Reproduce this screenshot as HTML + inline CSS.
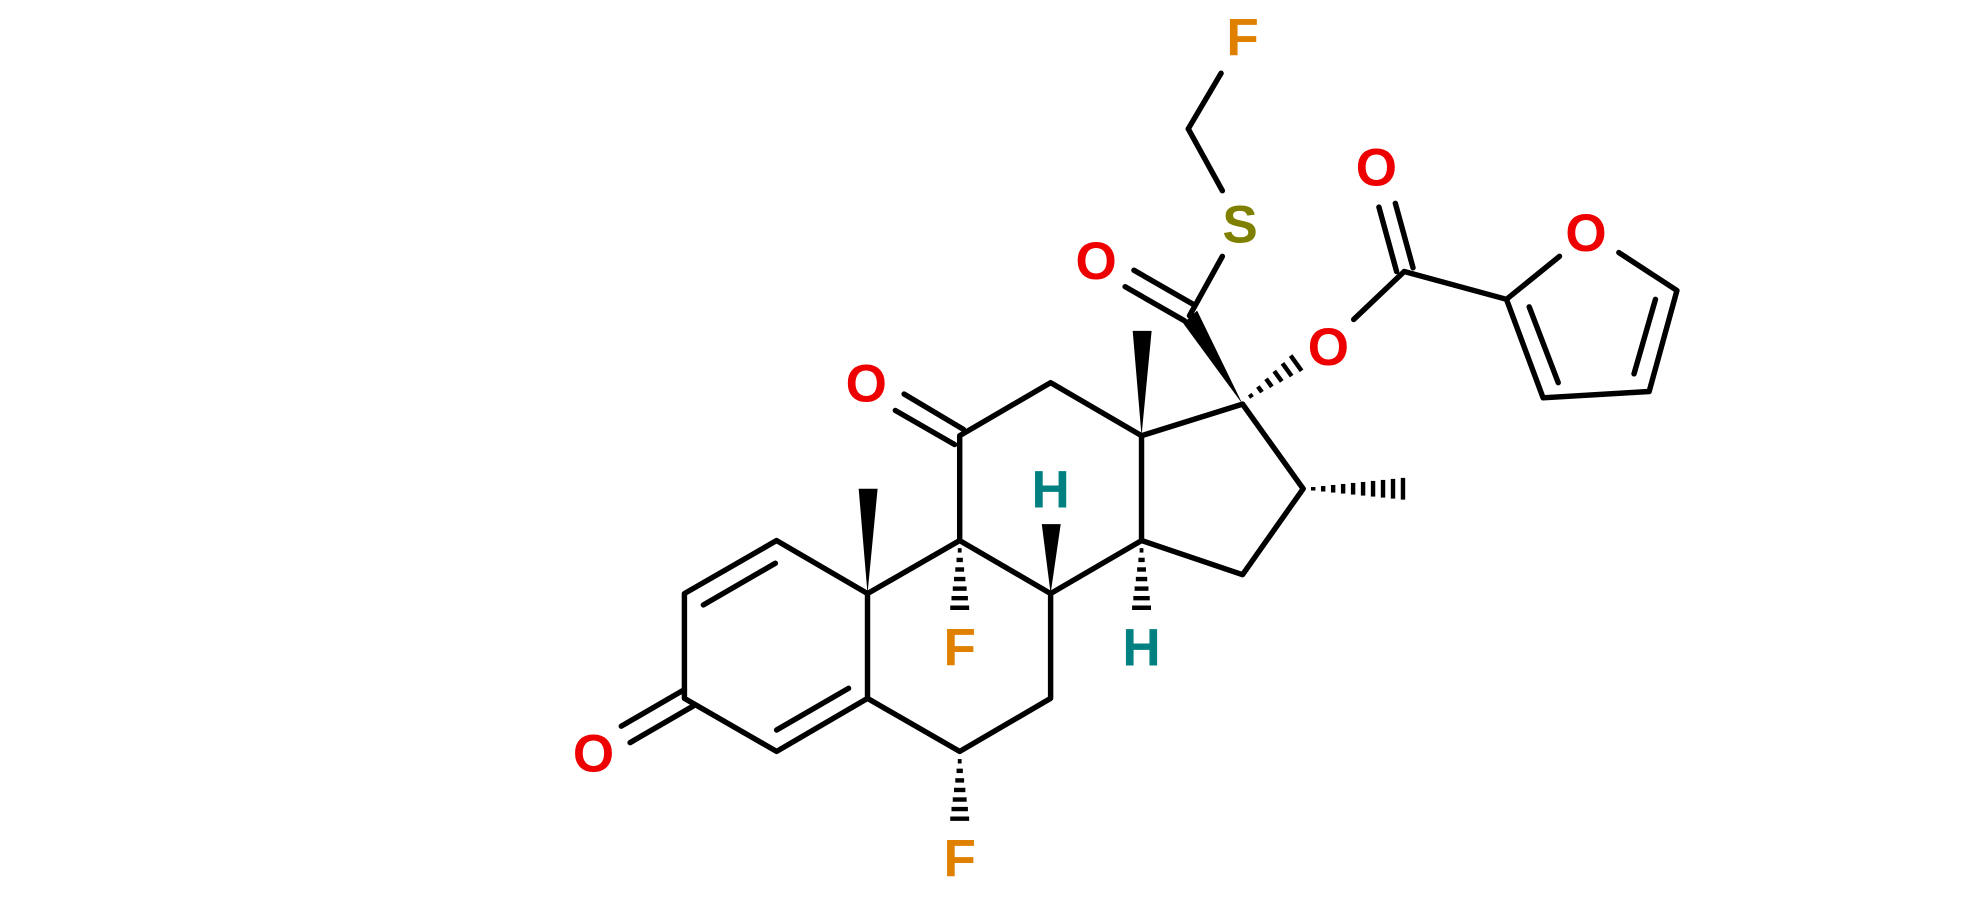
<!DOCTYPE html>
<html><head><meta charset="utf-8"><style>html,body{margin:0;padding:0;background:#fff;width:1980px;height:903px;overflow:hidden}svg{display:block}text{font-family:"Liberation Sans",sans-serif;font-weight:bold;font-size:42px;text-anchor:middle;dominant-baseline:central}</style></head><body>
<svg id="s" width="1980" height="903" viewBox="0 0 1568 715" preserveAspectRatio="none" xmlns="http://www.w3.org/2000/svg">
<g stroke="#000" stroke-width="4.3" fill="none" stroke-linecap="round" stroke-linejoin="round">
<polyline points="615,428 542,470 542,553 615,595 687,553 687,470 615,428"/>
<line x1="557" y1="479" x2="614" y2="446"/>
<line x1="615" y1="578" x2="672" y2="545"/>
<line x1="542" y1="546" x2="492" y2="575"/>
<line x1="549" y1="559" x2="499" y2="588"/>
<polyline points="687,470 760,428 760,345 832,303 904,345 904,428 832,470 760,428"/>
<polyline points="687,553 760,595 832,553 832,470"/>
<line x1="904" y1="345" x2="984" y2="320"/>
<polyline points="904,428 984,455 1032,387 984,320"/>
<line x1="763" y1="340" x2="716" y2="312"/>
<line x1="756" y1="352" x2="709" y2="325"/>
<line x1="945" y1="241" x2="898" y2="214"/>
<line x1="938" y1="254" x2="891" y2="227"/>
<line x1="942" y1="250" x2="968" y2="203"/>
<line x1="968" y1="151" x2="941" y2="102"/>
<line x1="941" y1="102" x2="967" y2="58"/>
<line x1="1072" y1="253" x2="1112" y2="215"/>
<line x1="1112" y1="215" x2="1193" y2="237"/>
<line x1="1106" y1="215" x2="1092" y2="164"/>
<line x1="1119" y1="212" x2="1105" y2="161"/>
<polyline points="1235,203 1193,237 1222,315 1306,310 1328,230 1282,200"/>
<line x1="1211" y1="243" x2="1234" y2="303"/>
<line x1="1294" y1="296" x2="1311" y2="237"/>
</g>
<g fill="#000">
<polygon points="687,470 680,387 695,387"/>
<polygon points="904,345 897,262 912,262"/>
<polygon points="832,470 825,415 840,415"/>
<polygon points="984,320 937,256 948,246"/>
</g>
<g id="h" stroke="#000" stroke-width="3.5"></g>
<text x="470" y="597" fill="#e00">O</text>
<text x="686" y="304" fill="#e00">O</text>
<text x="868" y="207" fill="#e00">O</text>
<text x="1052" y="275" fill="#e00">O</text>
<text x="1090" y="133" fill="#e00">O</text>
<text x="1256" y="185" fill="#e00">O</text>
<text x="982" y="178" fill="#808000">S</text>
<text x="984" y="30" fill="#e08000">F</text>
<text x="760" y="513" fill="#e08000">F</text>
<text x="760" y="680" fill="#e08000">F</text>
<text x="832" y="388" fill="#008080">H</text>
<text x="904" y="513" fill="#008080">H</text>
</svg>
<script>
var g=document.getElementById('h');
function hash(x1,y1,x2,y2,w,n){var dx=x2-x1,dy=y2-y1,L=Math.hypot(dx,dy),px=-dy/L,py=dx/L;for(var i=0;i<n;i++){var t=(i+0.5)/n,cx=x1+dx*t,cy=y1+dy*t,hw=1+w*t;var l=document.createElementNS('http://www.w3.org/2000/svg','line');l.setAttribute('x1',cx+px*hw);l.setAttribute('y1',cy+py*hw);l.setAttribute('x2',cx-px*hw);l.setAttribute('y2',cy-py*hw);g.appendChild(l);}}
hash(760,432,760,485,7,7);
hash(760,599,760,652,7,7);
hash(904,432,904,485,7,7);
hash(1036,387,1115,387,8,10);
hash(987,316,1030,285,7,6);
</script>
</body></html>
